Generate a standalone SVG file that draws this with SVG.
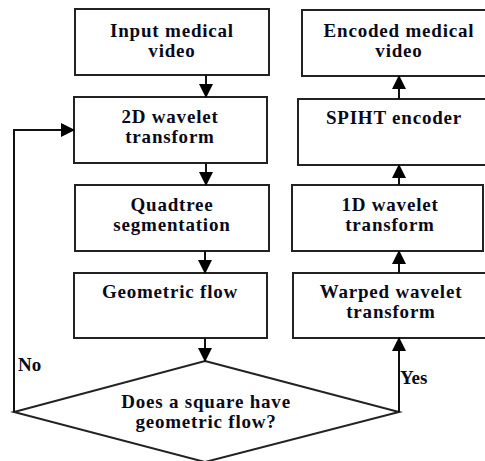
<svg xmlns="http://www.w3.org/2000/svg" width="485" height="461" viewBox="0 0 485 461">
<defs>
<style>
.box{fill:#fff;stroke:#222;stroke-width:2}
.t{font-family:"Liberation Serif","Times New Roman",serif;font-weight:bold;font-size:19px;letter-spacing:0.8px;fill:#0a0a1a;text-anchor:middle}
.lbl{font-family:"Liberation Serif","Times New Roman",serif;font-weight:bold;font-size:19px;fill:#0a0a1a}
.c{fill:none;stroke:#111;stroke-width:2}
</style>
<marker id="ah" markerUnits="userSpaceOnUse" markerWidth="14" markerHeight="14" refX="13" refY="7" orient="auto" viewBox="0 0 14 14">
<path d="M0,0 L14,7 L0,14 z" fill="#000"/>
</marker>
</defs>
<rect width="485" height="461" fill="#fff"/>
<g id="input"><rect class="box" x="75" y="9" width="194" height="66"/><text class="t" x="172" y="37">Input medical</text><text class="t" x="172" y="57">video</text></g>
<g id="wavelet2d"><rect class="box" x="74" y="97" width="193" height="66"/><text class="t" x="170" y="123">2D wavelet</text><text class="t" x="170" y="143">transform</text></g>
<g id="quadtree"><rect class="box" x="75" y="185" width="194" height="66"/><text class="t" x="172" y="211">Quadtree</text><text class="t" x="172" y="231">segmentation</text></g>
<g id="geoflow"><rect class="box" x="74" y="273" width="193" height="65"/><text class="t" x="170" y="298">Geometric flow</text></g>
<g id="decision"><polygon class="box" points="205,361 399,412 205,462 14,412"/><text class="t" x="206" y="408">Does a square have</text><text class="t" x="206" y="428">geometric flow?</text></g>
<g id="encoded"><rect class="box" x="302" y="10" width="200" height="66"/><text class="t" x="399" y="37">Encoded medical</text><text class="t" x="399" y="57">video</text></g>
<g id="spiht"><rect class="box" x="298" y="99" width="200" height="66"/><text class="t" x="394" y="124">SPIHT encoder</text></g>
<g id="wavelet1d"><rect class="box" x="292" y="185" width="191" height="66"/><text class="t" x="390" y="211">1D wavelet</text><text class="t" x="390" y="231">transform</text></g>
<g id="warped"><rect class="box" x="293" y="273" width="200" height="65"/><text class="t" x="391" y="298">Warped wavelet</text><text class="t" x="391" y="318">transform</text></g>
<g id="connectors">
<line class="c" x1="206" y1="75" x2="206" y2="97" marker-end="url(#ah)"/>
<line class="c" x1="206" y1="163" x2="206" y2="185" marker-end="url(#ah)"/>
<line class="c" x1="205" y1="251" x2="205" y2="273" marker-end="url(#ah)"/>
<line class="c" x1="205" y1="338" x2="205" y2="361" marker-end="url(#ah)"/>
<polyline class="c" points="14,412 14,130 74,130" marker-end="url(#ah)"/>
<line class="c" x1="399" y1="412" x2="399" y2="338" marker-end="url(#ah)"/>
<line class="c" x1="399" y1="273" x2="399" y2="251" marker-end="url(#ah)"/>
<line class="c" x1="399" y1="185" x2="399" y2="165" marker-end="url(#ah)"/>
<line class="c" x1="399" y1="99" x2="399" y2="76" marker-end="url(#ah)"/>
<text class="lbl" x="18" y="371">No</text>
<text class="lbl" x="400" y="384">Yes</text>
</g>
</svg>
